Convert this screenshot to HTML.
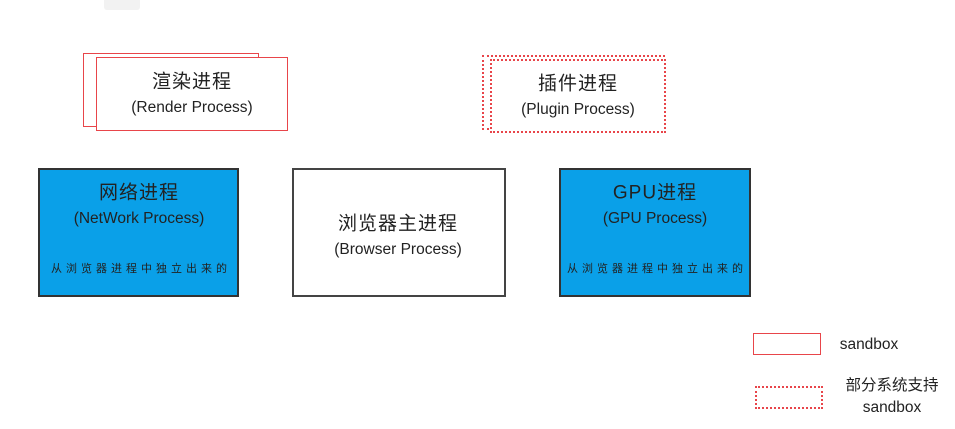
<!DOCTYPE html>
<html><head><meta charset="utf-8"><style>
body{margin:0;width:955px;height:429px;background:#fff;position:relative;overflow:hidden;font-family:"Liberation Sans","Noto Sans CJK SC",sans-serif;color:#222}
.b{position:absolute;box-sizing:border-box}
.t{position:absolute;white-space:nowrap;transform:translate(-50%,-50%)}
.r{border:1.5px solid #e8454a;background:#fff}
.d{border:2px dotted #e8454a;background:#fff}
.blue{background:#0aa0e8;border:2px solid #333}
.w{border:2px solid #444;background:#fff}
.h{font-size:19px;letter-spacing:1px}.s{font-size:15.5px}.x{font-size:11px;letter-spacing:4px}
</style></head><body>
<div class="b" style="left:104px;top:0;width:36px;height:10px;background:#f2f2f2;border-radius:0 0 3px 3px"></div>
<div class="b r" style="left:83px;top:53px;width:176px;height:74px"></div>
<div class="b r" style="left:96px;top:57px;width:192px;height:74px"></div>
<div class="t h" style="left:192px;top:80px">渲染进程</div>
<div class="t s" style="left:192px;top:108px">(Render Process)</div>

<div class="b d" style="left:482px;top:55px;width:183px;height:75px"></div>
<div class="b d" style="left:490px;top:59px;width:176px;height:74px"></div>
<div class="t h" style="left:578px;top:82px">插件进程</div>
<div class="t s" style="left:578px;top:110px">(Plugin Process)</div>

<div class="b blue" style="left:38px;top:168px;width:201px;height:129px"></div>
<div class="t h" style="left:139px;top:191px">网络进程</div>
<div class="t s" style="left:139px;top:219px">(NetWork Process)</div>
<div class="t x" style="left:141px;top:268px">从浏览器进程中独立出来的</div>

<div class="b w" style="left:292px;top:168px;width:214px;height:129px"></div>
<div class="t h" style="left:398px;top:222px">浏览器主进程</div>
<div class="t s" style="left:398px;top:250px">(Browser Process)</div>

<div class="b blue" style="left:559px;top:168px;width:192px;height:129px"></div>
<div class="t h" style="left:655px;top:191px">GPU进程</div>
<div class="t s" style="left:655px;top:219px">(GPU Process)</div>
<div class="t x" style="left:657px;top:268px">从浏览器进程中独立出来的</div>

<div class="b r" style="left:753px;top:333px;width:68px;height:22px"></div>
<div class="t s" style="left:869px;top:345px">sandbox</div>
<div class="b d" style="left:755px;top:386px;width:68px;height:23px"></div>
<div class="t s" style="left:892px;top:384px">部分系统支持</div>
<div class="t s" style="left:892px;top:408px">sandbox</div>
</body></html>
